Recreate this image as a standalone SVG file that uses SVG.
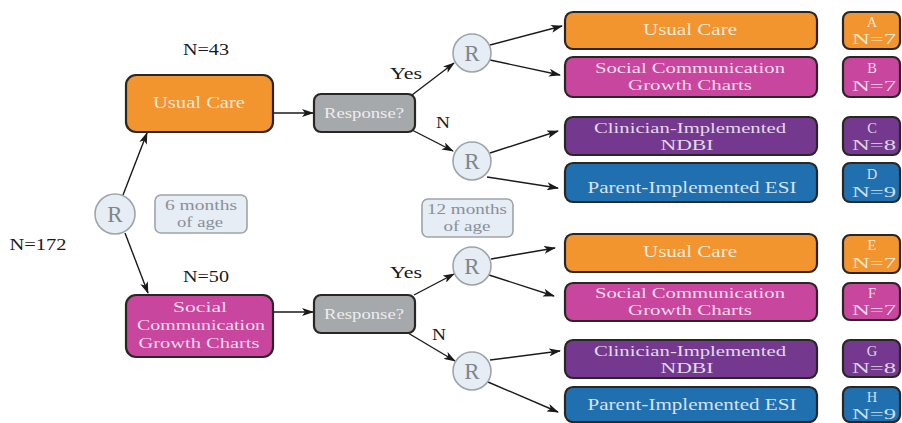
<svg xmlns="http://www.w3.org/2000/svg" width="902" height="423" viewBox="0 0 902 423" font-family="'Liberation Serif', 'DejaVu Serif', serif">
<style>
text{font-family:'Liberation Serif','DejaVu Serif',serif;text-anchor:middle}
.lbl{font-size:17px;fill:#1a1a1a}
.box{stroke:#2a2623;stroke-width:2.2}
.or{fill:#F2952F}.mg{fill:#C8469E}.pu{fill:#74398F}.bl{fill:#2070B0}.gr{fill:#A6A9AC}
.bt{font-size:16.5px;fill:#FFFFFF;fill-opacity:0.82}
.bt2{font-size:14.5px;fill:#FFFFFF;fill-opacity:0.82}
.lt{font-size:14.5px;fill:#FFFFFF;fill-opacity:0.8}
.rc{fill:#E6EDF5;stroke:#9EA4AA;stroke-width:1.6}
.rt{font-size:23px;fill:#7F858C}
.age{fill:#E6EDF5;stroke:#9EA4AA;stroke-width:1.6}
.at{font-size:14.5px;fill:#8A9098}
.conn line{stroke:#1a1a1a;stroke-width:1.4;marker-end:url(#ah)}
</style>
<defs>
<marker id="ah" viewBox="0 0 12 8" refX="11" refY="4" markerWidth="12" markerHeight="8" markerUnits="userSpaceOnUse" orient="auto">
<path d="M0,0 L12,4 L0,8 L3,4 Z" fill="#1a1a1a"/>
</marker>
</defs>
<rect width="902" height="423" fill="#FFFFFF"/>

<text class="lbl" x="206" y="55" textLength="46" lengthAdjust="spacingAndGlyphs">N=43</text>
<text class="lbl" x="206" y="282" textLength="46" lengthAdjust="spacingAndGlyphs">N=50</text>
<text class="lbl" x="38" y="250" textLength="57" lengthAdjust="spacingAndGlyphs">N=172</text>
<text class="lbl" x="406" y="79" textLength="32" lengthAdjust="spacingAndGlyphs">Yes</text>
<text class="lbl" x="443" y="128" textLength="14" lengthAdjust="spacingAndGlyphs">N</text>
<text class="lbl" x="406" y="278" textLength="32" lengthAdjust="spacingAndGlyphs">Yes</text>
<text class="lbl" x="439" y="340" textLength="14" lengthAdjust="spacingAndGlyphs">N</text>

<g class="conn">
<line x1="123" y1="195" x2="147" y2="133"/>
<line x1="125" y1="233" x2="148" y2="293"/>
<line x1="273" y1="113" x2="313" y2="113"/>
<line x1="273" y1="312" x2="313" y2="312"/>
<line x1="412" y1="95" x2="454" y2="63"/>
<line x1="412" y1="130" x2="453" y2="151"/>
<line x1="490" y1="45" x2="562" y2="26"/>
<line x1="490" y1="60" x2="560" y2="75"/>
<line x1="490" y1="153" x2="558" y2="131"/>
<line x1="487" y1="177" x2="558" y2="188"/>
<line x1="414" y1="295" x2="454" y2="274"/>
<line x1="408" y1="333" x2="455" y2="361"/>
<line x1="491" y1="259" x2="555" y2="248"/>
<line x1="489" y1="275" x2="554" y2="296"/>
<line x1="490" y1="360" x2="560" y2="351"/>
<line x1="488" y1="382" x2="558" y2="412"/>
</g>

<g id="r-start"><circle class="rc" cx="115" cy="214" r="20"/><text class="rt" x="115" y="222">R</text></g>
<g id="age6"><rect class="age" x="155" y="195" width="92" height="38" rx="6"/>
<text class="at" x="201" y="210" textLength="72" lengthAdjust="spacingAndGlyphs">6 months</text>
<text class="at" x="200" y="227" textLength="46" lengthAdjust="spacingAndGlyphs">of age</text></g>
<g id="age12"><rect class="age" x="422" y="199" width="91" height="38" rx="6"/>
<text class="at" x="467" y="214" textLength="80" lengthAdjust="spacingAndGlyphs">12 months</text>
<text class="at" x="467" y="231" textLength="47" lengthAdjust="spacingAndGlyphs">of age</text></g>

<g id="uc1"><rect class="box or" x="126" y="75" width="147" height="57" rx="10"/>
<text class="bt" x="199" y="108" textLength="92" lengthAdjust="spacingAndGlyphs">Usual Care</text></g>
<g id="scgc1"><rect class="box mg" x="126" y="295" width="147" height="62" rx="10"/>
<text class="bt2" x="200" y="312" textLength="54" lengthAdjust="spacingAndGlyphs">Social</text>
<text class="bt2" x="201" y="330" textLength="128" lengthAdjust="spacingAndGlyphs">Communication</text>
<text class="bt2" x="199" y="348" textLength="121" lengthAdjust="spacingAndGlyphs">Growth Charts</text></g>

<g id="resp1"><rect class="box gr" x="314" y="94" width="101" height="38" rx="7"/>
<text class="bt" style="font-size:14px" x="364" y="118" textLength="80" lengthAdjust="spacingAndGlyphs">Response?</text></g>
<g id="resp2"><rect class="box gr" x="314" y="295" width="101" height="38" rx="7"/>
<text class="bt" style="font-size:14px" x="364" y="319" textLength="80" lengthAdjust="spacingAndGlyphs">Response?</text></g>

<g id="r1"><circle class="rc" cx="472" cy="53" r="19"/><text class="rt" x="472" y="61">R</text></g>
<g id="r2"><circle class="rc" cx="472" cy="161" r="19"/><text class="rt" x="472" y="169">R</text></g>
<g id="r3"><circle class="rc" cx="472" cy="266" r="19"/><text class="rt" x="472" y="274">R</text></g>
<g id="r4"><circle class="rc" cx="472" cy="371" r="19"/><text class="rt" x="472" y="379">R</text></g>

<g id="armA"><rect class="box or" x="565" y="12" width="252" height="37" rx="8"/>
<text class="bt" x="690" y="35" textLength="94" lengthAdjust="spacingAndGlyphs">Usual Care</text></g>
<g id="armB"><rect class="box mg" x="565" y="57" width="252" height="40" rx="8"/>
<text class="bt2" x="690" y="73" textLength="190" lengthAdjust="spacingAndGlyphs">Social Communication</text>
<text class="bt2" x="690" y="90" textLength="124" lengthAdjust="spacingAndGlyphs">Growth Charts</text></g>
<g id="armC"><rect class="box pu" x="565" y="117" width="252" height="38" rx="8"/>
<text class="bt2" x="690" y="133" textLength="192" lengthAdjust="spacingAndGlyphs">Clinician-Implemented</text>
<text class="bt2" x="687" y="150" textLength="53" lengthAdjust="spacingAndGlyphs">NDBI</text></g>
<g id="armD"><rect class="box bl" x="565" y="163" width="252" height="39" rx="8"/>
<text class="bt" x="692" y="193" textLength="209" lengthAdjust="spacingAndGlyphs">Parent-Implemented ESI</text></g>
<g id="armE"><rect class="box or" x="565" y="234" width="252" height="38" rx="8"/>
<text class="bt" x="690" y="257" textLength="94" lengthAdjust="spacingAndGlyphs">Usual Care</text></g>
<g id="armF"><rect class="box mg" x="565" y="283" width="252" height="38" rx="8"/>
<text class="bt2" x="690" y="298" textLength="190" lengthAdjust="spacingAndGlyphs">Social Communication</text>
<text class="bt2" x="690" y="315" textLength="124" lengthAdjust="spacingAndGlyphs">Growth Charts</text></g>
<g id="armG"><rect class="box pu" x="565" y="340" width="252" height="38" rx="8"/>
<text class="bt2" x="690" y="356" textLength="192" lengthAdjust="spacingAndGlyphs">Clinician-Implemented</text>
<text class="bt2" x="687" y="373" textLength="53" lengthAdjust="spacingAndGlyphs">NDBI</text></g>
<g id="armH"><rect class="box bl" x="565" y="387" width="252" height="35" rx="8"/>
<text class="bt" x="692" y="410" textLength="209" lengthAdjust="spacingAndGlyphs">Parent-Implemented ESI</text></g>

<g id="labA"><rect class="box or" x="843" y="12" width="57" height="37" rx="7"/>
<text class="lt" x="872" y="27">A</text><text class="lt" x="874" y="44" textLength="44" lengthAdjust="spacingAndGlyphs">N=7</text></g>
<g id="labB"><rect class="box mg" x="843" y="57" width="57" height="40" rx="7"/>
<text class="lt" x="872" y="73">B</text><text class="lt" x="874" y="91" textLength="44" lengthAdjust="spacingAndGlyphs">N=7</text></g>
<g id="labC"><rect class="box pu" x="843" y="117" width="57" height="38" rx="7"/>
<text class="lt" x="872" y="133">C</text><text class="lt" x="874" y="150" textLength="44" lengthAdjust="spacingAndGlyphs">N=8</text></g>
<g id="labD"><rect class="box bl" x="843" y="163" width="57" height="39" rx="7"/>
<text class="lt" x="872" y="179">D</text><text class="lt" x="874" y="197" textLength="44" lengthAdjust="spacingAndGlyphs">N=9</text></g>
<g id="labE"><rect class="box or" x="843" y="235" width="57" height="38" rx="7"/>
<text class="lt" x="872" y="250">E</text><text class="lt" x="874" y="268" textLength="44" lengthAdjust="spacingAndGlyphs">N=7</text></g>
<g id="labF"><rect class="box mg" x="843" y="283" width="57" height="37" rx="7"/>
<text class="lt" x="872" y="298">F</text><text class="lt" x="874" y="315" textLength="44" lengthAdjust="spacingAndGlyphs">N=7</text></g>
<g id="labG"><rect class="box pu" x="843" y="340" width="57" height="37" rx="7"/>
<text class="lt" x="872" y="356">G</text><text class="lt" x="874" y="373" textLength="44" lengthAdjust="spacingAndGlyphs">N=8</text></g>
<g id="labH"><rect class="box bl" x="843" y="387" width="57" height="35" rx="7"/>
<text class="lt" x="872" y="402">H</text><text class="lt" x="874" y="419" textLength="44" lengthAdjust="spacingAndGlyphs">N=9</text></g>
</svg>
